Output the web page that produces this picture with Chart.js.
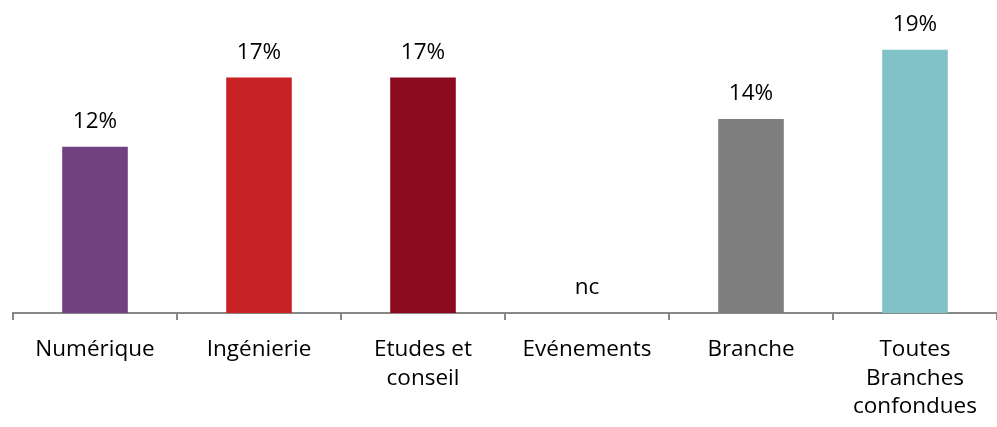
<!DOCTYPE html>
<html>
<head>
<meta charset="utf-8">
<script src="https://cdn.jsdelivr.net/npm/chart.js@4"></script>
<style>
  html, body { margin: 0; padding: 0; background: #fff; }
  #wrap { width: 997px; height: 427px; }
</style>
</head>
<body>
<div id="wrap"><canvas id="c"></canvas></div>
<script>
  // Data
  const categories = ["Numérique", "Ingénierie", ["Etudes et", "conseil"], "Evénements", "Branche", ["Toutes", "Branches", "confondues"]];
  const values = [12, 17, 17, null, 14, 19];
  const barColors = ["#71417f", "#c82224", "#8c0a1e", "#888888", "#7f7f7f", "#80c2c7"];

  const FONT = "'Open Sans', Lato, sans-serif";

  // Value labels on top of bars ("nc" where no value)
  const valueLabels = {
    id: "valueLabels",
    afterDatasetsDraw(chart) {
      const { ctx } = chart;
      const meta = chart.getDatasetMeta(0);
      const yScale = chart.scales.y;
      ctx.save();
      ctx.font = "22.5px " + FONT;
      ctx.fillStyle = "#000";
      ctx.textAlign = "center";
      ctx.textBaseline = "alphabetic";
      meta.data.forEach((bar, i) => {
        const v = values[i];
        const y = v == null ? yScale.getPixelForValue(0) : bar.y;
        ctx.fillText(v == null ? "nc" : v + "%", bar.x, y - 19);
      });
      ctx.restore();
    },
  };

  new Chart(document.getElementById("c"), {
    type: "bar",
    data: {
      labels: categories,
      datasets: [{
        data: values,
        backgroundColor: barColors,
        barPercentage: 0.4,
        categoryPercentage: 1,
      }],
    },
    options: {
      responsive: true,
      maintainAspectRatio: false,
      animation: false,
      layout: { padding: { left: 13, right: 0, top: 0, bottom: 0 } },
      plugins: { legend: { display: false }, tooltip: { enabled: false } },
      scales: {
        y: { display: false, min: 0, max: 22.6 },
        x: {
          offset: true,
          afterFit: (scale) => { scale.height = 114; },
          border: { color: "#888", width: 2 },
          grid: { offset: true, drawOnChartArea: false, color: "#888", lineWidth: 2, tickLength: 7 },
          ticks: {
            color: "#000",
            padding: 16,
            maxRotation: 0,
            autoSkip: false,
            font: { family: FONT, size: 22.5, lineHeight: 1.25 },
          },
        },
      },
    },
    plugins: [valueLabels],
  });
</script>
</body>
</html>
